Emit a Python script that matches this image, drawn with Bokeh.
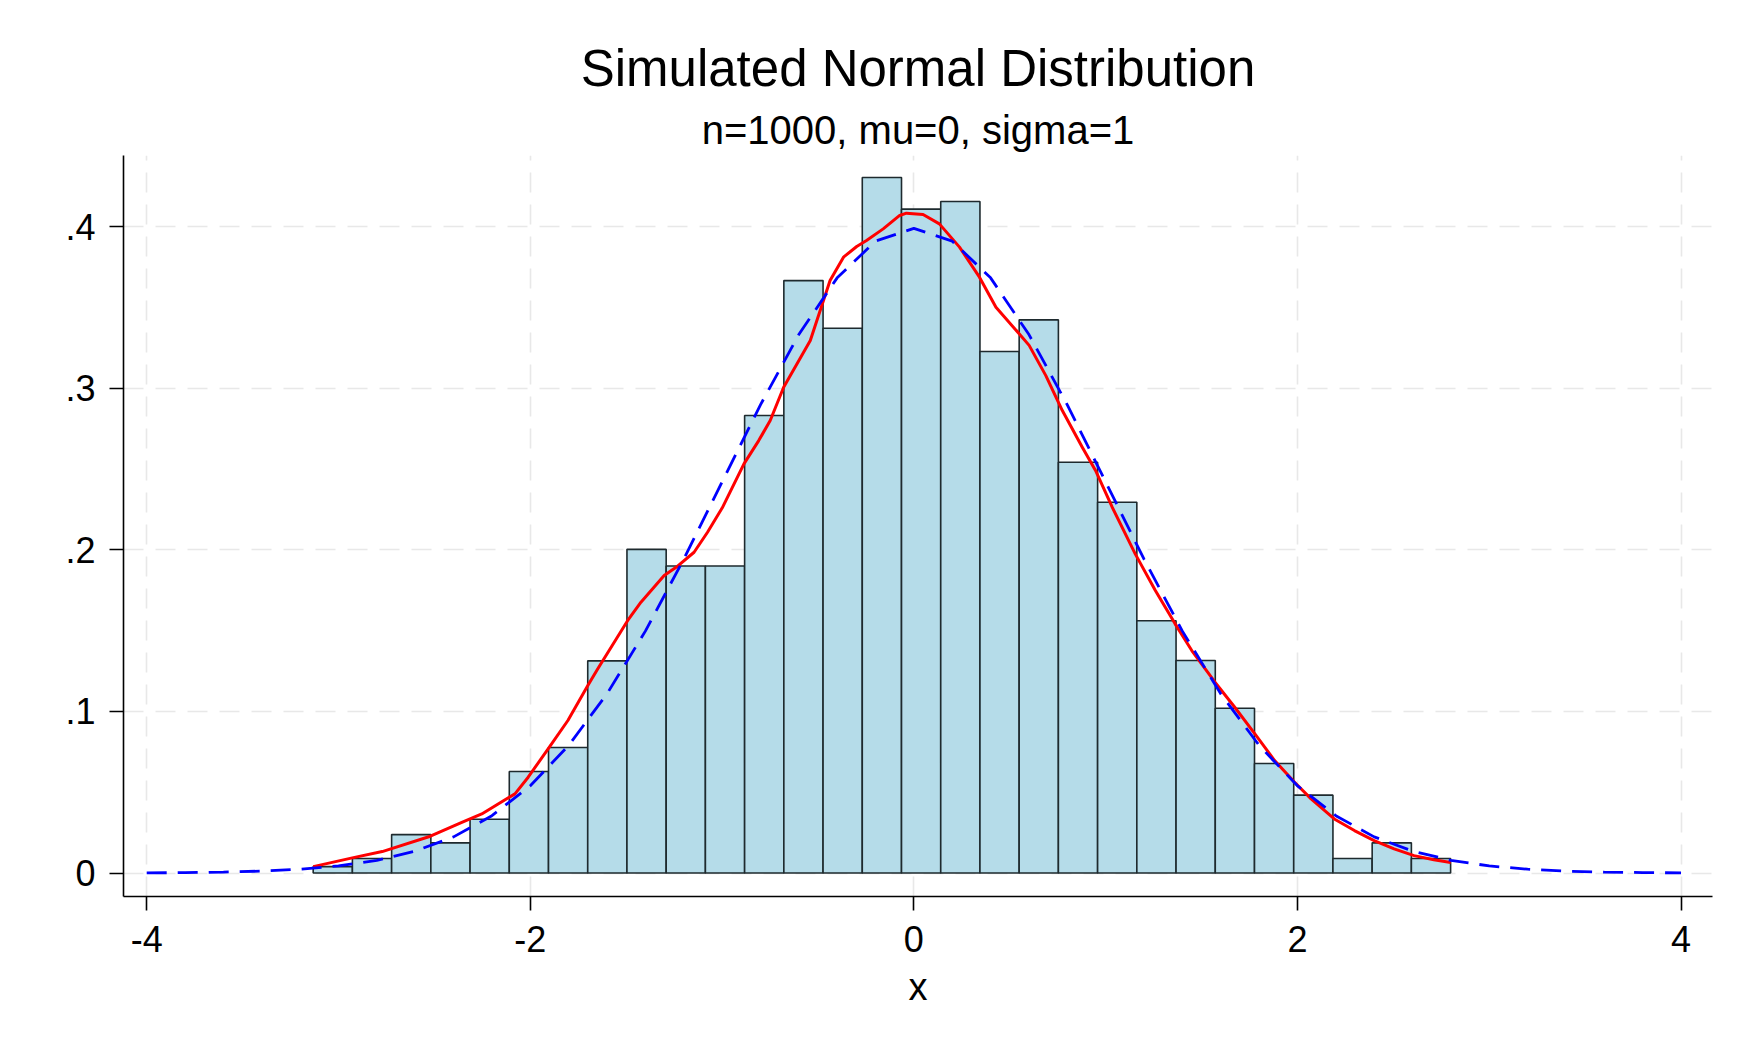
import numpy as np
from bokeh.plotting import figure
from bokeh.models import Range1d, FixedTicker, CustomJSTickFormatter, Title
from bokeh.embed import file_html
from bokeh.resources import INLINE

# ---- data ----
title_text = "Simulated Normal Distribution"
subtitle_text = "n=1000, mu=0, sigma=1"
x_label = "x"

bin_start = -3.132
bin_width = 0.2045
hist_density = [0.0040, 0.0090, 0.0238, 0.0187, 0.0333, 0.0628, 0.0777, 0.1313,
                0.2003, 0.1900, 0.1900, 0.2831, 0.3666, 0.3371, 0.4304, 0.4108,
                0.4155, 0.3227, 0.3423, 0.2542, 0.2294, 0.1561, 0.1315, 0.1020,
                0.0678, 0.0482, 0.0090, 0.0187, 0.0090]

kde_x = [-3.132, -2.928, -2.772, -2.521, -2.357, -2.253, -2.080, -2.011, -1.907,
         -1.804, -1.700, -1.648, -1.492, -1.423, -1.302, -1.232, -1.146, -1.076,
         -0.999, -0.886, -0.809, -0.749, -0.679, -0.540, -0.437, -0.367, -0.298,
         -0.247, -0.160, -0.074, -0.039, 0.048, 0.133, 0.238, 0.342, 0.428, 0.549,
         0.601, 0.688, 0.774, 0.878, 0.947, 1.034, 1.154, 1.259, 1.362, 1.449,
         1.570, 1.673, 1.778, 1.881, 1.985, 2.071, 2.192, 2.297, 2.400, 2.504,
         2.608, 2.711, 2.799]
kde_y = [0.0040, 0.0094, 0.0133, 0.0228, 0.0314, 0.0366, 0.0490, 0.0593, 0.0769,
         0.0944, 0.1160, 0.1264, 0.1563, 0.1676, 0.1841, 0.1899, 0.1985, 0.2109,
         0.2260, 0.2532, 0.2676, 0.2800, 0.3006, 0.3295, 0.3666, 0.3811, 0.3877,
         0.3914, 0.3986, 0.4069, 0.4083, 0.4075, 0.4017, 0.3873, 0.3687, 0.3501,
         0.3337, 0.3265, 0.3078, 0.2862, 0.2635, 0.2491, 0.2264, 0.1975, 0.1748,
         0.1542, 0.1377, 0.1181, 0.1026, 0.0861, 0.0696, 0.0562, 0.0459, 0.0335,
         0.0263, 0.0201, 0.0150, 0.0108, 0.0082, 0.0065]

normal_x = [-4.0, -3.8, -3.6, -3.4, -3.2, -3.0, -2.8, -2.6, -2.4, -2.2, -2.0,
            -1.8, -1.6, -1.4, -1.2, -1.0, -0.8, -0.6, -0.4, -0.2, 0.0,
            0.2, 0.4, 0.6, 0.8, 1.0, 1.2, 1.4, 1.6, 1.8, 2.0,
            2.2, 2.4, 2.6, 2.8, 3.0, 3.2, 3.4, 3.6, 3.8, 4.0]
normal_y = [0.0001, 0.0003, 0.0006, 0.0012, 0.0024, 0.0044, 0.0079, 0.0136, 0.0224,
            0.0355, 0.0540, 0.0790, 0.1109, 0.1497, 0.1942, 0.2420, 0.2897, 0.3332,
            0.3683, 0.3910, 0.3989, 0.3910, 0.3683, 0.3332, 0.2897, 0.2420, 0.1942,
            0.1497, 0.1109, 0.0790, 0.0540, 0.0355, 0.0224, 0.0136, 0.0079, 0.0044,
            0.0024, 0.0012, 0.0006, 0.0003, 0.0001]

x_ticks = [-4, -2, 0, 2, 4]
y_ticks = [0, 0.1, 0.2, 0.3, 0.4]

FONT = "Liberation Sans"

p = figure(width=1734, height=1034, output_backend="svg", toolbar_location=None,
           x_range=Range1d(-4.121, 4.164), y_range=Range1d(-0.0145, 0.444),
           min_border_left=123, min_border_right=22, min_border_top=155,
           min_border_bottom=138, background_fill_color="white",
           border_fill_color="white")
p.outline_line_color = None

sub = Title(text=subtitle_text, align="center", text_font=FONT,
            text_font_size="40px", text_font_style="normal", text_color="black",
            standoff=8)
p.add_layout(sub, "above")
ttl = Title(text=title_text, align="center", text_font=FONT,
            text_font_size="51px", text_font_style="normal", text_color="black",
            standoff=10)
p.add_layout(ttl, "above")

edges = bin_start + bin_width * np.arange(len(hist_density) + 1)
p.quad(left=edges[:-1], right=edges[1:], bottom=0, top=hist_density,
       fill_color="#b5dce9", line_color="#1e2a2e", line_width=1.6)
p.line(kde_x, kde_y, line_color="red", line_width=3.0, line_join="round")
p.line(normal_x, normal_y, line_color="blue", line_width=2.8, line_dash="20 11")

for ax in (p.xaxis[0], p.yaxis[0]):
    ax.axis_line_color = "black"
    ax.axis_line_width = 1.6
    ax.major_tick_line_color = "black"
    ax.major_tick_line_width = 1.6
    ax.major_tick_out = 14
    ax.major_tick_in = 0
    ax.minor_tick_out = 0
    ax.minor_tick_in = 0
    ax.major_label_text_font = FONT
    ax.major_label_text_font_size = "36px"
    ax.major_label_text_color = "black"
    ax.axis_label_text_font = FONT
    ax.axis_label_text_font_style = "normal"
    ax.axis_label_text_font_size = "38px"
    ax.axis_label_text_color = "black"

p.xaxis.ticker = FixedTicker(ticks=x_ticks)
p.yaxis.ticker = FixedTicker(ticks=y_ticks)
p.xaxis.axis_label = x_label
p.xaxis.major_label_standoff = 15
p.xaxis.axis_label_standoff = 11
p.yaxis.major_label_standoff = 14
p.xaxis.formatter = CustomJSTickFormatter(code="return tick.toString();")
p.yaxis.formatter = CustomJSTickFormatter(
    code="return tick == 0 ? '0' : tick.toFixed(1).replace(/^0/, '');")

for g in (p.xgrid[0], p.ygrid[0]):
    g.grid_line_color = "#e8e8e8"
    g.grid_line_width = 1.6
    g.grid_line_dash = "20 12"
p.xgrid.ticker = FixedTicker(ticks=x_ticks)
p.ygrid.ticker = FixedTicker(ticks=y_ticks)

open("out.html", "w").write(file_html(p, INLINE))
